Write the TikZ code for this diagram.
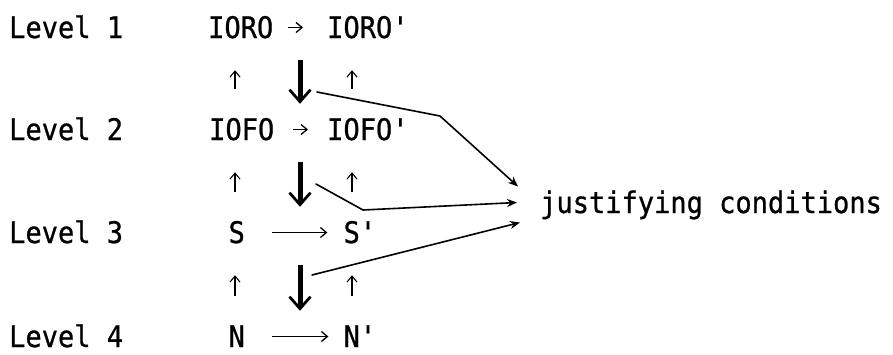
\documentclass[tikz,border=0pt]{standalone}
\usepackage{fontspec}
\newfontfamily\typewr[FakeStretch=0.91,FakeBold=0.8]{DejaVu Sans Mono}
\usetikzlibrary{arrows.meta,calc}
\begin{document}
\begin{tikzpicture}[x=1pt,y=-1pt,
  txt/.style={inner sep=0pt, anchor=base west, text height=21pt, text depth=0pt,
    font=\typewr\fontsize{29.7}{32}\selectfont},
  uparr/.style={line width=1.1pt, -{Straight Barb[length=6pt,width=10pt]}, shorten <=30pt, shorten >=32pt},
  bigarr/.style={line width=5pt, -{Straight Barb[length=12pt,width=21pt,line width=2.8pt]}, shorten <=22pt, shorten >=15pt},
  harr/.style={line width=1.3pt, -{Straight Barb[length=6pt,width=10pt]}},
  jline/.style={line width=1.6pt, -{Stealth[length=10pt,width=8pt]}, line join=round, line cap=round}]
\useasboundingbox (0,0) rectangle (893,354);

% level labels
\node[txt] (lv1) at (9,38)  {Level 1};
\node[txt] (lv2) at (9,140) {Level 2};
\node[txt] (lv3) at (9,243) {Level 3};
\node[txt] (lv4) at (9,347) {Level 4};

% row texts
\node[txt] (r1a) at (208,38)    {IORO};
\node[txt] (r1b) at (327,38)    {IORO'};
\node[txt] (r2a) at (209,140)   {IOFO};
\node[txt] (r2b) at (327,140)   {IOFO'};
\node[txt] (r3a) at (228.4,243) {S};
\node[txt] (r3b) at (343.4,243) {S'};
\node[txt] (r4a) at (228.4,347) {N};
\node[txt] (r4b) at (343.4,347) {N'};

\node[txt] (jc) at (540,213) {justifying conditions};

% columns
\coordinate (cL) at (235,0);
\coordinate (cM) at (300,0);
\coordinate (cR) at (352,0);

% horizontal arrows
\draw[harr, shorten <=15pt, shorten >=24pt] (r1a.east) -- (r1b.west);
\draw[harr, shorten <=19pt, shorten >=19pt] (r2a.east) -- (r2b.west);
\draw[harr, shorten <=27pt, shorten >=16pt] (r3a.east) -- (r3b.west);
\draw[harr, shorten <=27pt, shorten >=15pt] (r4a.east) -- (r4b.west);

% small up arrows
\draw[uparr] (r2a.north -| cL) -- (r1a.south -| cL);
\draw[uparr] (r2b.north -| cR) -- (r1b.south -| cR);
\draw[uparr] (r3a.north -| cL) -- (r2a.south -| cL);
\draw[uparr] (r3b.north -| cR) -- (r2b.south -| cR);
\draw[uparr] (r4a.north -| cL) -- (r3a.south -| cL);
\draw[uparr] (r4b.north -| cR) -- (r3b.south -| cR);

% thick down arrows
\draw[bigarr] (r1a.south -| cM) -- (r2a.north -| cM);
\draw[bigarr] (r2a.south -| cM) -- (r3a.north -| cM);
\draw[bigarr] (r3a.south -| cM) -- (r4a.north -| cM);

% connectors to justifying conditions
\coordinate (s1) at (317,92);
\coordinate (b1) at (440,116);
\coordinate (s2) at (316,184);
\coordinate (b2) at (363,210);
\coordinate (s3) at (312,275);
\draw[jline] (s1) -- (b1) -- ($(jc.west)+(-22,-16)$);
\draw[jline] (s2) -- (b2) -- ($(jc.west)+(-23,0)$);
\draw[jline] (s3) -- ($(jc.west)+(-20,20)$);
\end{tikzpicture}
\end{document}
